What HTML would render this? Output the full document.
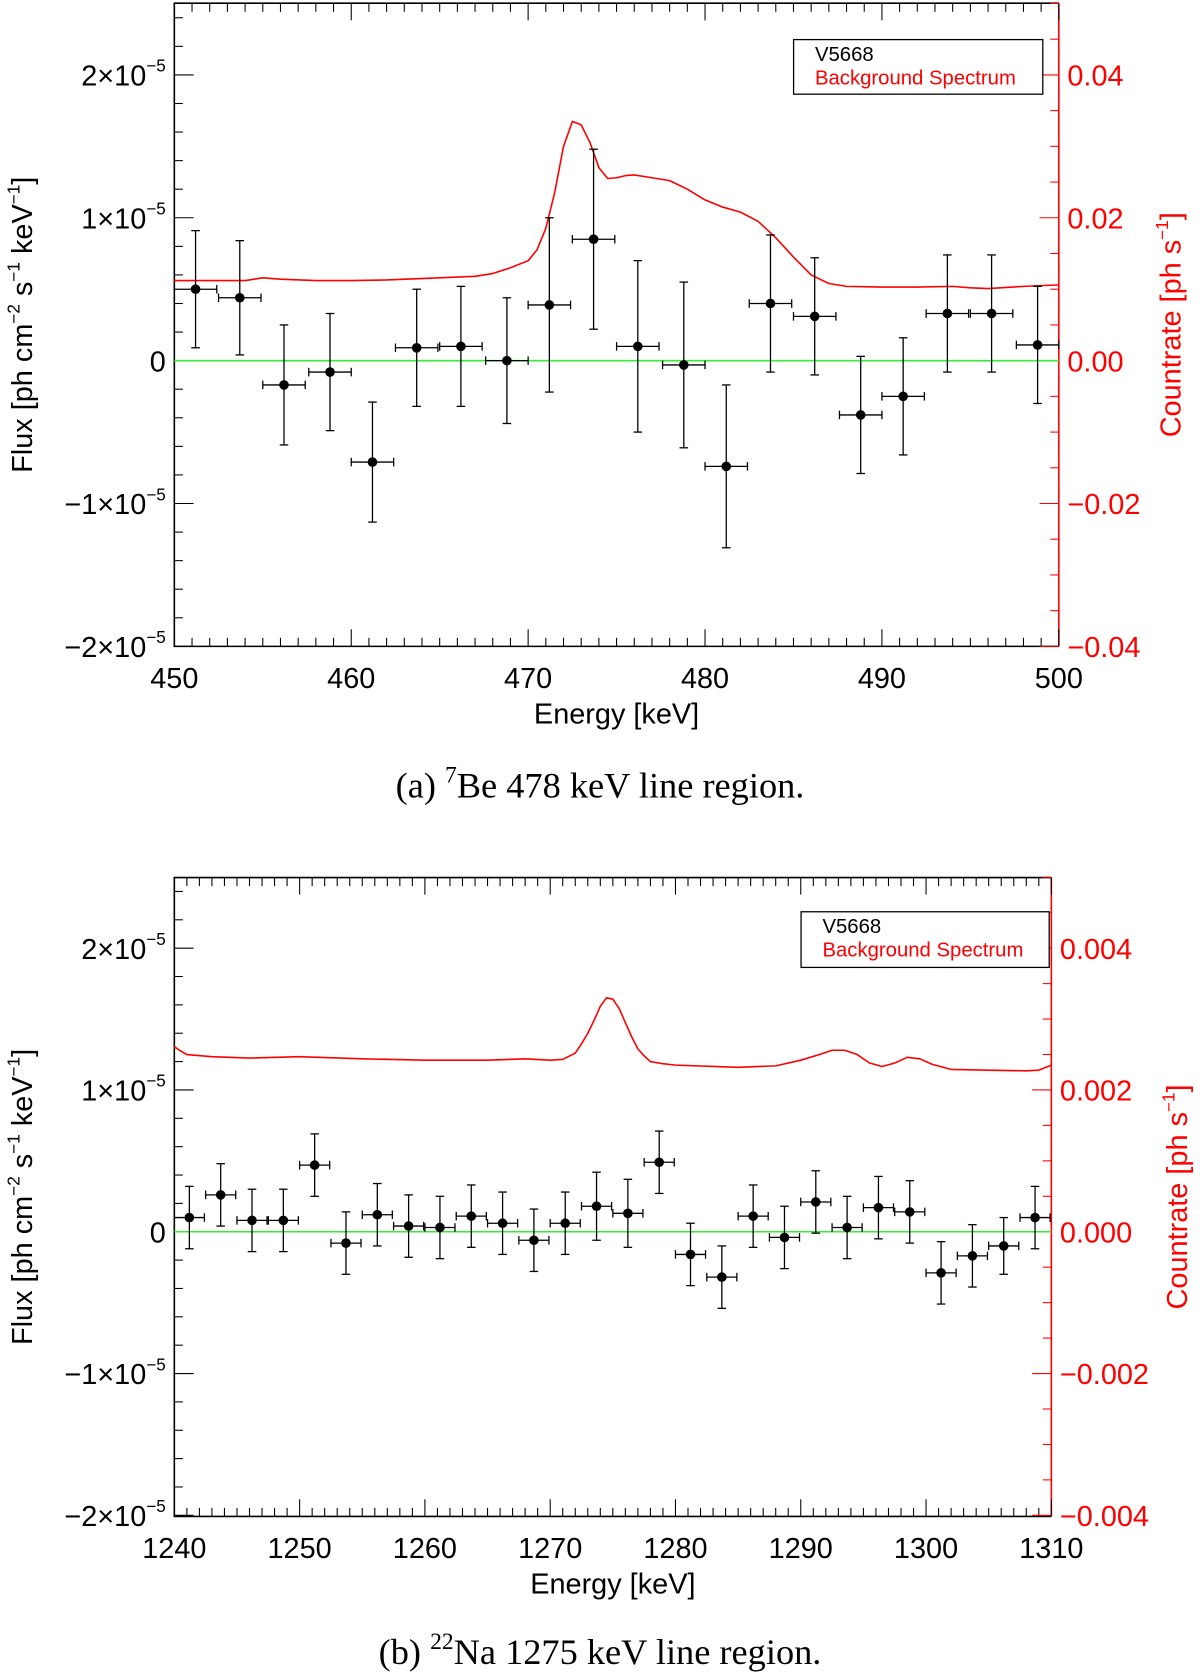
<!DOCTYPE html>
<html><head><meta charset="utf-8"><style>
html,body{margin:0;padding:0;background:#fff}
svg{display:block}
text{font-family:"Liberation Sans",sans-serif}
.cap{font-family:"Liberation Serif",serif}
</style></head><body>
<svg id="fig" width="1200" height="1678" viewBox="0 0 1122 1568" preserveAspectRatio="none" xmlns="http://www.w3.org/2000/svg">
<g id="pa"></g>
<g id="pb"></g>
<text class="cap" x="561" y="745" text-anchor="middle" font-size="34">(a) <tspan font-size="22" dy="-14">7</tspan><tspan dy="14">Be 478 keV line region.</tspan></text>
<text class="cap" x="561" y="1555" text-anchor="middle" font-size="34">(b) <tspan font-size="22" dy="-14">22</tspan><tspan dy="14">Na 1275 keV line region.</tspan></text>
</svg>
<script>
// Panel A data
const aEnergy=[451.2,453.7,456.2,458.8,461.2,463.7,466.2,468.8,471.2,473.7,476.2,478.8,481.2,483.7,486.2,488.8,491.2,493.7,496.2,498.8];
const aFlux=[0.5,0.44,-0.17,-0.08,-0.71,0.09,0.1,0.0,0.39,0.85,0.1,-0.03,-0.74,0.4,0.31,-0.38,-0.25,0.33,0.33,0.11];
const aErr=[0.41,0.4,0.42,0.41,0.42,0.41,0.42,0.44,0.61,0.63,0.6,0.58,0.57,0.48,0.41,0.41,0.41,0.41,0.41,0.41];
const aBgE=[450,452,454,455,456,458,460,462,465,467,468,469,470,470.5,471,471.5,472,472.5,473,473.5,474,474.5,475,475.5,476,477,478,479,480,481,482,483,484,485,486,487,488,490,492,494,495,496,498,500];
const aBgR=[0.0112,0.0112,0.0112,0.0116,0.0114,0.0112,0.0112,0.0113,0.0116,0.0118,0.0122,0.0130,0.0140,0.0155,0.0185,0.0235,0.0300,0.0335,0.0330,0.0305,0.0270,0.0255,0.0256,0.0259,0.0260,0.0256,0.0252,0.0240,0.0225,0.0215,0.0208,0.0195,0.0172,0.0145,0.0120,0.0108,0.0104,0.0103,0.0103,0.0104,0.0102,0.0101,0.0104,0.0106];
const aXTicks=[450,460,470,480,490,500];
const aRTicks=[-0.04,-0.02,0,0.02,0.04];
const aRLabels=["\u22120.04","\u22120.02","0.00","0.02","0.04"];
// Panel B data
const bEnergy=[1241.2,1243.7,1246.2,1248.7,1251.2,1253.7,1256.2,1258.7,1261.2,1263.7,1266.2,1268.7,1271.2,1273.7,1276.2,1278.7,1281.2,1283.7,1286.2,1288.7,1291.2,1293.7,1296.2,1298.7,1301.2,1303.7,1306.2,1308.7];
const bFlux=[0.1,0.26,0.08,0.08,0.47,-0.08,0.12,0.04,0.03,0.11,0.06,-0.06,0.06,0.18,0.13,0.49,-0.16,-0.32,0.11,-0.04,0.21,0.03,0.17,0.14,-0.29,-0.17,-0.1,0.1];
const bErr=[0.22,0.22,0.22,0.22,0.22,0.22,0.22,0.22,0.22,0.22,0.22,0.22,0.22,0.24,0.24,0.22,0.22,0.22,0.22,0.22,0.22,0.22,0.22,0.22,0.22,0.22,0.2,0.22];
const bBgE=[1240,1240.5,1241,1243,1246,1250,1255,1260,1265,1268,1270,1271,1272,1272.5,1273,1273.5,1274,1274.5,1275,1275.5,1276,1276.5,1277,1277.5,1278,1279,1280,1285,1288,1290,1291.5,1292.5,1293.5,1294.5,1295.5,1296.5,1297.5,1298.5,1299.5,1300.5,1302,1305,1308,1309,1310];
const bBgR=[0.00261,0.00255,0.0025,0.00247,0.00245,0.00247,0.00244,0.00242,0.00242,0.00244,0.00242,0.00243,0.00252,0.00265,0.0028,0.00298,0.00318,0.0033,0.00328,0.00315,0.00295,0.00275,0.00258,0.00248,0.0024,0.00237,0.00235,0.00232,0.00234,0.00242,0.0025,0.00256,0.00256,0.0025,0.00238,0.00233,0.00238,0.00246,0.00244,0.00236,0.00229,0.00228,0.00227,0.00228,0.00235];
const bXTicks=[1240,1250,1260,1270,1280,1290,1300,1310];
const bRTicks=[-0.004,-0.002,0,0.002,0.004];
const bRLabels=["\u22120.004","\u22120.002","0.000","0.002","0.004"];

const NS="http://www.w3.org/2000/svg";
function mk(p,tag,at,txt){const e=document.createElementNS(NS,tag);for(const k in at)e.setAttribute(k,at[k]);if(txt!=null)e.textContent=txt;p.appendChild(e);return e;}

function panel(g,cfg){
  const L=cfg.L,R=cfg.R,T=cfg.T,B=cfg.B,Z=cfg.Z,U=cfg.U;
  const x=v=>L+(v-cfg.x0)/(cfg.x1-cfg.x0)*(R-L);
  const y=v=>Z-v*U;
  const yr=v=>Z-v/cfg.rUnit*U;
  let e=mk(g,'path',{d:`M${R},${T}L${L},${T}L${L},${B}L${R},${B}`,fill:'none',stroke:'#000','stroke-width':1.5});
  
  
  e=mk(g,'line',{x1:R,y1:T,x2:R,y2:B,stroke:'#f00','stroke-width':1.5});
  
  
  const n=Math.round(cfg.x1-cfg.x0);
  for(let i=0;i<=n;i++){
    const v=cfg.x0+i, maj=(i%10===0), len=maj?16:8, px=x(v);
    mk(g,'line',{x1:px,y1:B,x2:px,y2:B-len,stroke:'#000','stroke-width':1});
    mk(g,'line',{x1:px,y1:T,x2:px,y2:T+len,stroke:'#000','stroke-width':1});
  }
  cfg.xticks.forEach(v=>{const t=mk(g,'text',{x:x(v),y:B+39,'text-anchor':'middle','font-size':27},String(v));
    
    });
  for(let i=-10;i<=12;i++){
    const v=i*0.2, len=(i%5===0)?18:8, py=y(v);
    if(py<T-1||py>B+1)continue;
    mk(g,'line',{x1:L,y1:py,x2:L+len,y2:py,stroke:'#000','stroke-width':1});
  }
  [[-2,"\u22122"],[-1,"\u22121"],[1,"1"],[2,"2"]].forEach(([v,s])=>{
    const t=mk(g,'text',{x:L-8,y:y(v)+10,'text-anchor':'end','font-size':27});
    
    
    mk(t,'tspan',{},s+"\u00d710");mk(t,'tspan',{'font-size':16,dy:-13},"\u22125");
  });
  let t0=mk(g,'text',{x:L-8,y:Z+10,'text-anchor':'end','font-size':27},"0");
  
  
  const step=cfg.rUnit/4;
  for(let i=-10;i<=10;i++){const v=i*step;const py=yr(v);if(py<T-1||py>B+1)continue;
    const len=(i%4===0)?18:8;mk(g,'line',{x1:R,y1:py,x2:R-len,y2:py,stroke:'#f00','stroke-width':1});}
  cfg.rticks.forEach((v,i)=>{const t=mk(g,'text',{x:R+8,y:yr(v)+10,'font-size':27,fill:'#f00'},cfg.rlabels[i]);
    
    });
  let tt=mk(g,'text',{x:(L+R)/2,y:B+72,'text-anchor':'middle','font-size':27},"Energy [keV]");
  
  
  tt=mk(g,'text',{transform:`translate(30,${(T+B)/2}) rotate(-90)`,'text-anchor':'middle','font-size':27});
  
  
  mk(tt,'tspan',{},"Flux [ph cm");mk(tt,'tspan',{'font-size':16,dy:-12},"\u22122");mk(tt,'tspan',{dy:12}," s");
  mk(tt,'tspan',{'font-size':16,dy:-12},"\u22121");mk(tt,'tspan',{dy:12}," keV");mk(tt,'tspan',{'font-size':16,dy:-12},"\u22121");mk(tt,'tspan',{dy:12},"]");
  tt=mk(g,'text',{transform:`translate(${cfg.rtx},${(T+B)/2}) rotate(-90)`,'text-anchor':'middle','font-size':27,fill:'#f00'});
  
  
  mk(tt,'tspan',{},"Countrate [ph s");mk(tt,'tspan',{'font-size':16,dy:-12},"\u22121");mk(tt,'tspan',{dy:12},"]");
  e=mk(g,'line',{x1:L,y1:Z,x2:R,y2:Z,stroke:'#33ee33','stroke-width':1.5});
  
  
  const d=cfg.bgE.map((v,i)=>(i?'L':'M')+x(v).toFixed(1)+','+yr(cfg.bgR[i]).toFixed(1)).join('');
  e=mk(g,'path',{d:d,fill:'none',stroke:'#f00','stroke-width':1.5,'stroke-linejoin':'round'});
  
  
  cfg.E.forEach((v,i)=>{
    const pg=mk(g,'g',{});
    
    
    const px=x(v),py=y(cfg.F[i]),hw=(R-L)/(cfg.x1-cfg.x0)*1.2;
    const y1=y(cfg.F[i]+cfg.Er[i]),y2=y(cfg.F[i]-cfg.Er[i]);
    const a={stroke:'#000','stroke-width':1.2};
    mk(pg,'line',Object.assign({x1:px,y1:y1,x2:px,y2:y2},a));
    mk(pg,'line',Object.assign({x1:px-4,y1:y1,x2:px+4,y2:y1},a));
    mk(pg,'line',Object.assign({x1:px-4,y1:y2,x2:px+4,y2:y2},a));
    mk(pg,'line',Object.assign({x1:px-hw,y1:py,x2:px+hw,y2:py},a));
    mk(pg,'line',Object.assign({x1:px-hw,y1:py-4,x2:px-hw,y2:py+4},a));
    mk(pg,'line',Object.assign({x1:px+hw,y1:py-4,x2:px+hw,y2:py+4},a));
    mk(pg,'circle',{cx:px,cy:py,r:4.5,fill:'#000'});
  });
  const lg=mk(g,'g',{});
  
  
  mk(lg,'rect',{x:cfg.lg[0],y:cfg.lg[1],width:cfg.lg[2],height:cfg.lg[3],fill:'#fff',stroke:'#000','stroke-width':1.2});
  let le=mk(lg,'text',{x:cfg.lg[0]+20,y:cfg.lg[1]+20,'font-size':19},"V5668");
  
  
  le=mk(lg,'text',{x:cfg.lg[0]+20,y:cfg.lg[1]+42,'font-size':19,fill:'#f00'},"Background Spectrum");
  
  
}
panel(document.getElementById('pa'),{L:163,R:990,T:3,B:604,Z:337,U:133.5,x0:450,x1:500,rUnit:0.02,
  xticks:aXTicks,rticks:aRTicks,rlabels:aRLabels,E:aEnergy,F:aFlux,Er:aErr,bgE:aBgE,bgR:aBgR,lg:[742,37,233,51],rtx:1104});
panel(document.getElementById('pb'),{L:163,R:983,T:820,B:1417,Z:1151,U:132.5,x0:1240,x1:1310,rUnit:0.002,
  xticks:bXTicks,rticks:bRTicks,rlabels:bRLabels,E:bEnergy,F:bFlux,Er:bErr,bgE:bBgE,bgR:bBgR,lg:[749,852,232,52],rtx:1110});
</script>
</body></html>
